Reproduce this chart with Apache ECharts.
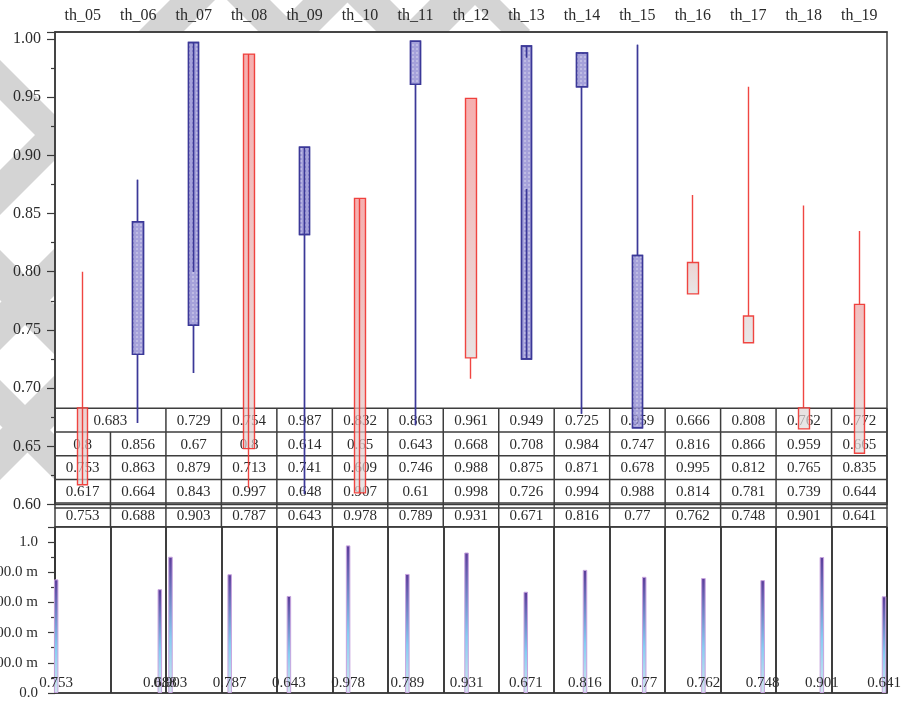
<!DOCTYPE html>
<html><head><meta charset="utf-8">
<script src="https://cdn.jsdelivr.net/npm/echarts@6/dist/echarts.min.js"></script>
<style>html,body{margin:0;padding:0;background:#fff}#c{width:905px;height:703px}</style>
</head><body><div id="c"></div>
<script>
// ---------- data ----------
const categories = ['th_05','th_06','th_07','th_08','th_09','th_10','th_11','th_12','th_13','th_14','th_15','th_16','th_17','th_18','th_19'];
// candlestick values as drawn (open, close, lowest, highest)
const candleOpen    = [0.683,0.729,0.754,0.987,0.832,0.863,0.961,0.949,0.725,0.959,0.666,0.808,0.762,0.683,0.772];
const candleClose   = [0.617,0.843,0.997,0.648,0.907,0.610,0.998,0.726,0.994,0.988,0.814,0.781,0.739,0.665,0.644];
const candleLowest  = [0.753,0.670,0.713,0.741,0.609,0.746,0.668,0.708,0.871,0.678,0.666,0.781,0.739,0.665,0.644];
const candleHighest = [0.800,0.879,0.800,0.614,0.650,0.643,0.998,0.949,0.984,0.988,0.995,0.866,0.959,0.857,0.835];
// table rows (as printed)
const tableRow1 = ['0.683','0.729','0.754','0.987','0.832','0.863','0.961','0.949','0.725','0.959','0.666','0.808','0.762','0.772'];
const tableRow1Spans = [2,1,1,1,1,1,1,1,1,1,1,1,1,1];
const tableRow2 = [0.8,0.856,0.67,0.8,0.614,0.65,0.643,0.668,0.708,0.984,0.747,0.816,0.866,0.959,0.665];
const tableRow3 = [0.753,0.863,0.879,0.713,0.741,0.609,0.746,0.988,0.875,0.871,0.678,0.995,0.812,0.765,0.835];
const tableRow4 = [0.617,0.664,0.843,0.997,0.648,0.907,0.61,0.998,0.726,0.994,0.988,0.814,0.781,0.739,0.644];
// bar panel
const barValues = [0.753,0.688,0.903,0.787,0.643,0.978,0.789,0.931,0.671,0.816,0.77,0.762,0.748,0.901,0.641];
const barX      = [0.07,1.82,2,3,4,5,6,7,8,9,10,11,12,13,14.05];
const topYTicks = ['0.60','0.65','0.70','0.75','0.80','0.85','0.90','0.95','1.00'];
const bottomYTicks = ['0.0','200.0 m','400.0 m','600.0 m','800.0 m','1.0'];

// ---------- layout / style ----------
const FONT = 'Liberation Serif';
const TXT = '#2b2b2b';
const AX = '#3a3a3a';
const L = 55, R = 18;
const G1_TOP = 32, G1_H = 472.5;
const G2_TOP = 527, G2_H = 166;
const TABLE_TOP = 408.3, ROW_H = 23.7;
const STRIPE = '#d4d4d4';

const chart = echarts.init(document.getElementById('c'));

const redFill = new echarts.graphic.LinearGradient(0,0,0,1,[
  {offset:0,color:'rgba(240,125,125,0.62)'},{offset:1,color:'rgba(222,222,222,0.72)'}]);
const blueFill = 'rgba(140,135,208,0.78)';
const blueDecal = {symbol:'rect', symbolSize:1, color:'rgba(255,255,255,0.28)', dashArrayX:[1.5,1.5], dashArrayY:[1.5,1.5], rotation:0};

const candleData = categories.map((c,i)=>{
  const up = candleClose[i] > candleOpen[i];
  const item = {value:[candleOpen[i], candleClose[i], candleLowest[i], candleHighest[i]]};
  if (up) item.itemStyle = {decal: blueDecal};
  return item;
});

const barGrad = new echarts.graphic.LinearGradient(0,0,0,1,[
  {offset:0,color:'#5b3c9a'},{offset:0.6,color:'#86cdf2'},{offset:1,color:'#d2e6ee'}]);

const tickCats = Array.from({length:250},(_,i)=>String(i));

// decorative background lattice (visible only in the margins; the white plot areas cover the rest)
function stripePolys(){
  const LIM = 560;
  const slash = [[170,215],[303,350],[430,480]];                    // bands x+y in [a,b]
  const back  = [[227,270],[345,390],[470,500],[-100,-60],[-300,-250],[-425,-380]]; // bands x-y in [a,b]
  const polys = [];
  slash.forEach(([a,b])=>polys.push([[a,0],[b,0],[0,b],[0,a]]));
  back.forEach(([a,b])=>{
    const pt = (d,y)=>[y+d,y];
    polys.push([pt(a,Math.max(0,-a)),pt(b,Math.max(0,-b)),pt(b,(LIM-b)/2),pt(a,(LIM-a)/2)]);
  });
  return polys.map(p=>({type:'polygon',z:-100,shape:{points:p},style:{fill:STRIPE},silent:true}));
}

const option = {
  backgroundColor:'#fff',
  animation:false,
  textStyle:{fontFamily:FONT},
  grid:[
    {left:L,right:R,top:G1_TOP,height:G1_H,show:true,backgroundColor:'#fff',borderColor:AX,borderWidth:1.5,outerBoundsMode:'none',containLabel:false},
    {left:L,right:R,top:G2_TOP,height:G2_H,show:true,backgroundColor:'#fff',borderColor:AX,borderWidth:1.5,outerBoundsMode:'none',containLabel:false}
  ],
  xAxis:[
    {type:'category',gridIndex:0,data:categories,position:'top',
      axisLine:{lineStyle:{color:AX,width:1.5}},
      axisTick:{alignWithLabel:true,inside:true,length:6,lineStyle:{color:AX,width:1.5}},
      axisLabel:{color:TXT,fontSize:16,fontFamily:FONT,margin:8},splitLine:{show:false}},
    {type:'category',gridIndex:0,data:categories,position:'top',
      axisLine:{show:false},axisTick:{inside:true,length:3,lineStyle:{color:AX,width:1.2}},
      axisLabel:{show:false},splitLine:{show:false}},
    {type:'category',gridIndex:0,data:categories,position:'bottom',offset:3,
      axisLine:{lineStyle:{color:AX,width:1.5}},
      axisTick:{alignWithLabel:true,inside:false,length:4,lineStyle:{color:AX,width:1.2}},
      axisLabel:{show:false},splitLine:{show:false}},
    {type:'category',gridIndex:0,data:categories,position:'bottom',offset:3,
      axisLine:{show:false},
      axisTick:{alignWithLabel:true,inside:true,length:7,lineStyle:{color:AX,width:1.2}},
      axisLabel:{show:false},splitLine:{show:false}},
    // bottom panel: value axis for bars
    {type:'value',gridIndex:1,min:0.05,max:14.1,show:false,splitLine:{show:false}},
    // bottom panel: column separators
    {type:'category',gridIndex:1,data:categories,axisLine:{show:false},axisTick:{show:false},axisLabel:{show:false},
      splitLine:{show:true,lineStyle:{color:'#2a2a2a',width:1.8}}},
    // bottom panel: dense ticks
    {type:'category',gridIndex:1,data:tickCats,position:'bottom',
      axisLine:{lineStyle:{color:AX,width:1.5}},
      axisTick:{interval:0,length:6,lineStyle:{color:'#555',width:1}},
      axisLabel:{show:false},splitLine:{show:false}}
  ],
  yAxis:[
    {type:'value',gridIndex:0,min:0.6,max:1.006,interval:0.05,
      axisLine:{show:true,lineStyle:{color:AX,width:1.5}},
      axisTick:{show:true,length:8,lineStyle:{color:AX,width:1.2}},
      minorTick:{show:true,splitNumber:2,length:4,lineStyle:{color:AX,width:1.2}},
      axisLabel:{color:TXT,fontSize:16,fontFamily:FONT,margin:14,showMaxLabel:false,
        formatter:v=>topYTicks[Math.round((v-0.6)/0.05)]},
      splitLine:{show:false}},
    {type:'value',gridIndex:1,min:0,max:1.1,interval:0.2,
      axisLine:{show:true,lineStyle:{color:AX,width:1.5}},
      axisTick:{show:true,length:7,lineStyle:{color:AX,width:1.2}},
      minorTick:{show:true,splitNumber:2,length:4,lineStyle:{color:AX,width:1.2}},
      axisLabel:{color:TXT,fontSize:15,fontFamily:FONT,margin:17,showMaxLabel:false,
        formatter:v=>bottomYTicks[Math.round(v/0.2)]},
      splitLine:{show:false}}
  ],
  series:[
    {type:'candlestick',xAxisIndex:0,yAxisIndex:0,barWidth:11,z:3,
      itemStyle:{color:blueFill,color0:redFill,borderColor:'#3b3898',borderColor0:'rgba(238,50,45,0.9)',borderWidth:1.4},
      data:candleData},
    {type:'bar',xAxisIndex:4,yAxisIndex:1,barWidth:4.5,z:3,
      itemStyle:{color:barGrad,borderColor:'#c7a3de',borderWidth:1},
      label:{show:true,position:'insideBottom',distance:2,color:TXT,fontSize:15,fontFamily:FONT,
        formatter:p=>String(p.value[1])},
      data:barValues.map((v,i)=>[barX[i],v])}
  ]
};
chart.setOption(option);

// ---------- table overlay + background lattice ----------
function buildTable(){
  const centers = categories.map(c=>chart.convertToPixel({xAxisIndex:0},c));
  const band = centers[1]-centers[0];
  const bound = k => centers[0]-band/2 + k*band;
  const els = [];
  const lineStyle = {stroke:'#3d3d3d',lineWidth:1.5};
  const rows = [
    {vals:tableRow1, spans:tableRow1Spans},
    {vals:tableRow2.map(String)},
    {vals:tableRow3.map(String)},
    {vals:tableRow4.map(String)},
    {vals:barValues.map(String)}
  ];
  for (let r=0;r<=rows.length;r++){
    const y = TABLE_TOP + r*ROW_H;
    els.push({type:'line',z:1,shape:{x1:bound(0),y1:y,x2:bound(categories.length),y2:y},style:lineStyle,silent:true});
  }
  rows.forEach((row,r)=>{
    const y0 = TABLE_TOP + r*ROW_H;
    let col = 0;
    row.vals.forEach((t,j)=>{
      const span = row.spans ? row.spans[j] : 1;
      const x0 = bound(col), x1 = bound(col+span);
      els.push({type:'line',z:1,shape:{x1:x0,y1:y0,x2:x0,y2:y0+ROW_H},style:lineStyle,silent:true});
      els.push({type:'text',z:1,x:(x0+x1)/2,y:y0+ROW_H/2+1,silent:true,
        style:{text:t,fill:TXT,font:'15px "'+FONT+'"',align:'center',verticalAlign:'middle'}});
      col += span;
    });
    const xe = bound(col);
    els.push({type:'line',z:1,shape:{x1:xe,y1:y0,x2:xe,y2:y0+ROW_H},style:lineStyle,silent:true});
  });
  chart.setOption({graphic:[
    {type:'group',id:'bg',z:-100,children:stripePolys()},
    {type:'group',id:'tbl',z:1,children:els}
  ]});
}
buildTable();
</script>
</body></html>
